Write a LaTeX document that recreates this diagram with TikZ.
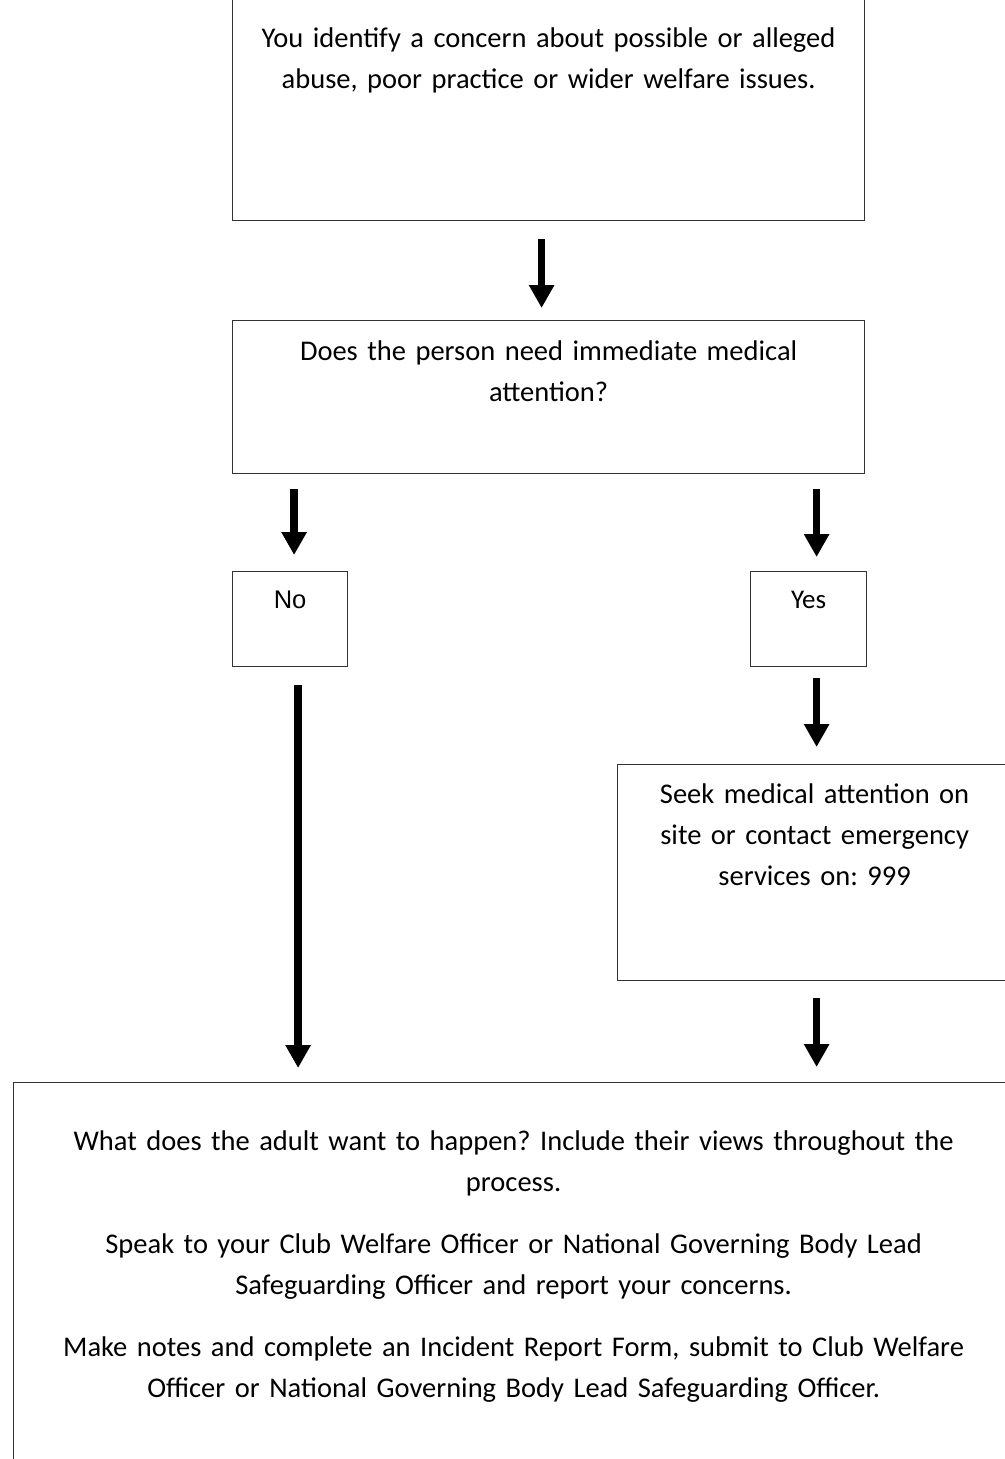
\documentclass[tikz,border=0pt]{standalone}
\usepackage{fontspec}
\setmainfont{Carlito}
\newfontfamily\arialfont{Liberation Sans}
\usetikzlibrary{arrows.meta}
\frenchspacing

\begin{document}
\begin{tikzpicture}[x=1pt,y=-1pt,
                    box/.style={draw=black!80,line width=1.2pt,align=center,inner sep=0pt,
                                anchor=north west,font=\fontsize{28.5}{41}\selectfont},
                    choice/.style={box,text height=37pt,text depth=58pt},
                    arr/.style={line width=7.5pt,-{Triangle[width=24pt,length=23pt]}}]
  \useasboundingbox (0,0) rectangle (1004,1459);
  % boxes
  \node[box,text width=632pt,text height=49pt,text depth=173pt] (concern) at (232,-2)
    {You identify a concern about possible or alleged\\abuse, poor practice or wider welfare issues.};
  \node[box,text width=632pt,text height=40pt,text depth=113pt] (medical) at (232,320)
    {Does the person need immediate medical\\attention?};
  \node[choice,text width=115pt] (no) at (232,571) {\arialfont\fontsize{25.5}{28}\selectfont No};
  \node[choice,text width=116pt,font=\fontsize{27}{28}\selectfont] (yes) at (750,571) {Yes};
  \node[box,text width=394pt,text height=39pt,text depth=177pt] (seek) at (617,764)
    {Seek medical attention on\\site or contact emergency\\services on: 999};
  \node[box,text width=1000pt,text height=68pt,text depth=320pt] (adult) at (13,1082)
    {What does the adult want to happen? Include their views throughout the\\process.\\[21pt]
     Speak to your Club Welfare Officer or National Governing Body Lead\\Safeguarding Officer and report your concerns.\\[21pt]
     Make notes and complete an Incident Report Form, submit to Club Welfare\\Officer or National Governing Body Lead Safeguarding Officer.};
  % arrows
  \draw[arr,shorten <=18pt,shorten >=12pt] ([xshift=-7pt]concern.south) -- ([xshift=-7pt]medical.north);
  \draw[arr,shorten <=15pt,shorten >=16pt] ([xshift=4pt]no.north |- medical.south) -- ([xshift=4pt]no.north);
  \draw[arr,shorten <=15pt,shorten >=14pt] ([xshift=8pt]yes.north |- medical.south) -- ([xshift=8pt]yes.north);
  \draw[arr,shorten <=11pt,shorten >=17pt] ([xshift=8pt]yes.south) -- ([xshift=8pt]yes.south |- seek.north);
  \draw[arr,shorten <=18pt,shorten >=14pt] ([xshift=8pt]no.south) -- ([xshift=8pt]no.south |- adult.north);
  \draw[arr,shorten <=17pt,shorten >=15pt] ([xshift=2pt]seek.south) -- ([xshift=2pt]seek.south |- adult.north);
\end{tikzpicture}
\end{document}
